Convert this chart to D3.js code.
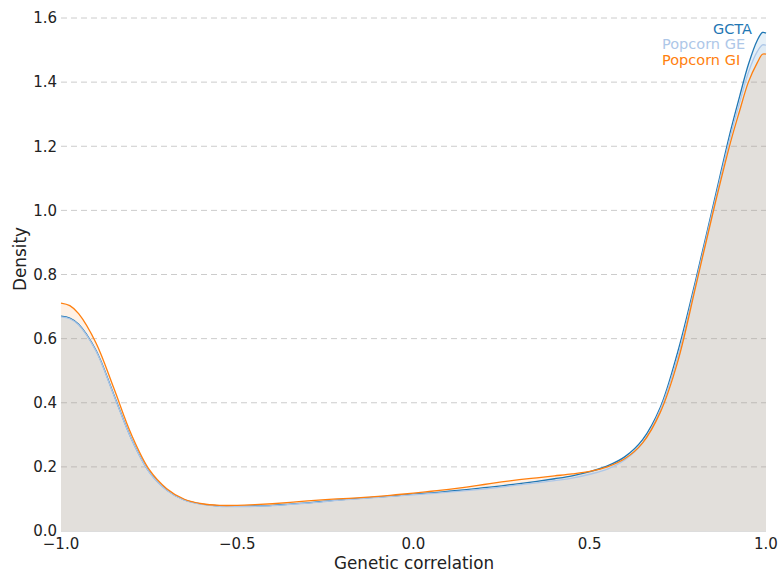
<!DOCTYPE html>
<html><head><meta charset="utf-8">
<script src="https://cdn.jsdelivr.net/npm/d3@7"></script>
<style>body{margin:0;background:#fff;} text{font-family:"DejaVu Sans",sans-serif;}</style>
</head><body>
<svg id="c" width="778" height="575"></svg>
<script>
const xs = [-1.00,-0.975,-0.95,-0.90,-0.85,-0.80,-0.75,-0.70,-0.65,-0.60,-0.55,-0.50,-0.45,-0.40,-0.35,-0.30,-0.25,-0.20,-0.15,-0.10,-0.05,0.00,0.05,0.10,0.15,0.20,0.25,0.30,0.35,0.40,0.45,0.50,0.55,0.60,0.65,0.70,0.75,0.80,0.85,0.90,0.925,0.95,0.975,0.99,1.00];
const gcta = [0.670,0.664,0.645,0.562,0.425,0.287,0.185,0.128,0.097,0.084,0.078,0.077,0.078,0.080,0.084,0.088,0.093,0.098,0.102,0.106,0.110,0.115,0.119,0.124,0.129,0.135,0.141,0.148,0.155,0.163,0.172,0.185,0.203,0.232,0.285,0.385,0.560,0.780,1.015,1.250,1.355,1.455,1.530,1.555,1.553];
const popGE = [0.668,0.662,0.643,0.560,0.423,0.286,0.184,0.127,0.096,0.083,0.077,0.076,0.077,0.079,0.083,0.087,0.092,0.097,0.101,0.105,0.109,0.113,0.117,0.121,0.126,0.131,0.137,0.144,0.150,0.157,0.165,0.177,0.193,0.222,0.275,0.378,0.545,0.770,1.005,1.235,1.335,1.430,1.495,1.516,1.515];
const popGI = [0.711,0.703,0.678,0.585,0.445,0.300,0.192,0.132,0.099,0.085,0.080,0.080,0.082,0.085,0.089,0.094,0.098,0.101,0.104,0.108,0.113,0.118,0.124,0.130,0.137,0.145,0.153,0.160,0.166,0.172,0.178,0.186,0.200,0.226,0.275,0.370,0.530,0.760,0.995,1.215,1.310,1.400,1.460,1.487,1.487];
const seriesNames = ["GCTA","Popcorn GE","Popcorn GI"];
const seriesColors = ["#1f77b4","#aec7e8","#ff7f0e"];
const yTicks = [0.0,0.2,0.4,0.6,0.8,1.0,1.2,1.4,1.6];
const xTicks = [-1.0,-0.5,0.0,0.5,1.0];

const svg = d3.select("#c");
const x = d3.scaleLinear().domain([-1,1]).range([61,766]);
const y = d3.scaleLinear().domain([0,1.6]).range([531,18]);

// grid
svg.append("g").selectAll("line").data(yTicks.filter(d=>d>0)).join("line")
  .attr("x1",61).attr("x2",766).attr("y1",d=>y(d)).attr("y2",d=>y(d))
  .attr("stroke","#cccccc").attr("stroke-width",1).attr("stroke-dasharray","6,4");

const all = [gcta,popGE,popGI];
const crv = d3.curveCatmullRom.alpha(0.5);
const area = d3.area().x((d,i)=>x(xs[i])).y0(y(0)).y1(d=>y(d)).curve(crv);
const line = d3.line().x((d,i)=>x(xs[i])).y(d=>y(d)).curve(crv);
all.forEach((s,k)=>{
  svg.append("path").attr("d",area(s)).attr("fill",seriesColors[k]).attr("fill-opacity",0.11);
});
all.forEach((s,k)=>{
  svg.append("path").attr("d",line(s)).attr("fill","none").attr("stroke",seriesColors[k]).attr("stroke-width",1.3);
});

// bottom spine
svg.append("line").attr("x1",61).attr("x2",766).attr("y1",531.5).attr("y2",531.5).attr("stroke","#dddddd");

// y tick labels
svg.append("g").selectAll("text").data(yTicks).join("text")
  .attr("x",57).attr("y",d=>y(d)).attr("dy","0.35em").attr("text-anchor","end")
  .attr("font-size",15).attr("fill","#222").text(d=>d.toFixed(1));
// x tick labels
svg.append("g").selectAll("text").data(xTicks).join("text")
  .attr("x",d=>x(d)).attr("y",548.5).attr("text-anchor","middle")
  .attr("font-size",15).attr("fill","#222").text(d=>d3.format(".1f")(d).replace("-","\u2212"));

svg.append("text").attr("x",414).attr("y",569).attr("text-anchor","middle").attr("font-size",16.8).attr("fill","#222").text("Genetic correlation");
svg.append("text").attr("transform","translate(26,259) rotate(-90)").attr("text-anchor","middle").attr("font-size",16.8).attr("fill","#222").text("Density");

// legend
const legX = [752,662,662], legA = ["end","start","start"], legY = [28.5,44,60];
svg.append("g").selectAll("text").data(seriesNames).join("text")
  .attr("x",(d,i)=>legX[i]).attr("y",(d,i)=>legY[i]).attr("dy","0.35em").attr("text-anchor",(d,i)=>legA[i])
  .attr("font-size",14.5).attr("fill",(d,i)=>seriesColors[i]).text(d=>d);
</script>
</body></html>
